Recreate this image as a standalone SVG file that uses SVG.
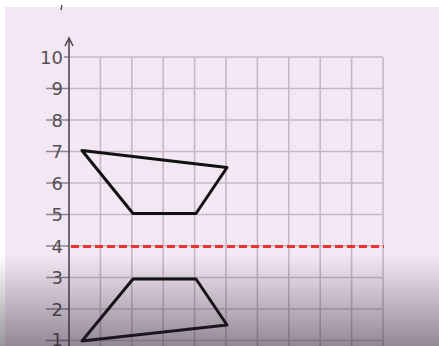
<svg xmlns="http://www.w3.org/2000/svg" width="439" height="346" viewBox="0 0 439 346">
<defs>
<linearGradient id="shade" x1="0" y1="0" x2="0" y2="1">
<stop offset="0" stop-color="#2a2030" stop-opacity="0"/>
<stop offset="0.3" stop-color="#2a2030" stop-opacity="0.14"/>
<stop offset="1" stop-color="#2a2030" stop-opacity="0.48"/>
</linearGradient>
</defs>
<style>
.grid{stroke:#c6b6c7;stroke-width:1.6;fill:none}
.axis{stroke:#4f4a52;stroke-width:1.6;fill:none}
.tick{stroke:#8d8490;stroke-width:1.4}
.lbl{font-family:"DejaVu Sans","Liberation Sans",sans-serif;font-size:18px;fill:#545055;text-anchor:end}
.shape{fill:none;stroke:#111;stroke-width:3;stroke-linejoin:round}
.mirror{stroke:#e8362c;stroke-width:3;stroke-dasharray:8 4;fill:none}
</style>
<rect width="439" height="346" fill="#ffffff"/>
<rect x="5" y="7" width="434" height="339" fill="#f4e7f4"/>
<line x1="62" y1="5" x2="61" y2="10" stroke="#555" stroke-width="1.5"/>
<g id="grid">
<path class="grid" d="M69 57H383M69 88.5H383M69 120H383M69 151.5H383M69 183H383M69 214.5H383M69 246H383M69 277.5H383M69 309H383M69 340.5H383"/>
<path class="grid" d="M100.4 57V346M131.8 57V346M163.2 57V346M194.6 57V346M226 57V346M257.4 57V346M288.8 57V346M320.2 57V346M351.6 57V346M383 57V346"/>
</g>
<g id="ticks">
<path class="tick" d="M64 57H69M46 88.5H69M46 120H69M46 151.5H69M46 183H69M46 214.5H69M46 246H69M46 277.5H69M46 309H69M46 340.5H69"/>
</g>
<g id="axis">
<line class="axis" x1="69" y1="40" x2="69" y2="346"/>
<path class="axis" d="M65 46L69 38L73 46"/>
</g>
<g id="labels">
<text class="lbl" x="63" y="63.5">10</text>
<text class="lbl" x="63" y="95">9</text>
<text class="lbl" x="63" y="126.5">8</text>
<text class="lbl" x="63" y="158">7</text>
<text class="lbl" x="63" y="189.5">6</text>
<text class="lbl" x="63" y="221">5</text>
<text class="lbl" x="63" y="252.5">4</text>
<text class="lbl" x="63" y="284">3</text>
<text class="lbl" x="63" y="315.5">2</text>
<text class="lbl" x="63" y="345.5">1</text>
</g>
<g id="connectors">
<line class="mirror" x1="71" y1="246.5" x2="384" y2="246.5"/>
</g>
<g id="shape-original">
<polygon class="shape" points="82,150.5 227,167.5 196,213.5 133,213.5"/>
</g>
<g id="shape-reflected">
<polygon class="shape" points="82,341 227,325 196,279 133,279"/>
</g>
<rect x="0" y="255" width="439" height="91" fill="url(#shade)"/>
</svg>
